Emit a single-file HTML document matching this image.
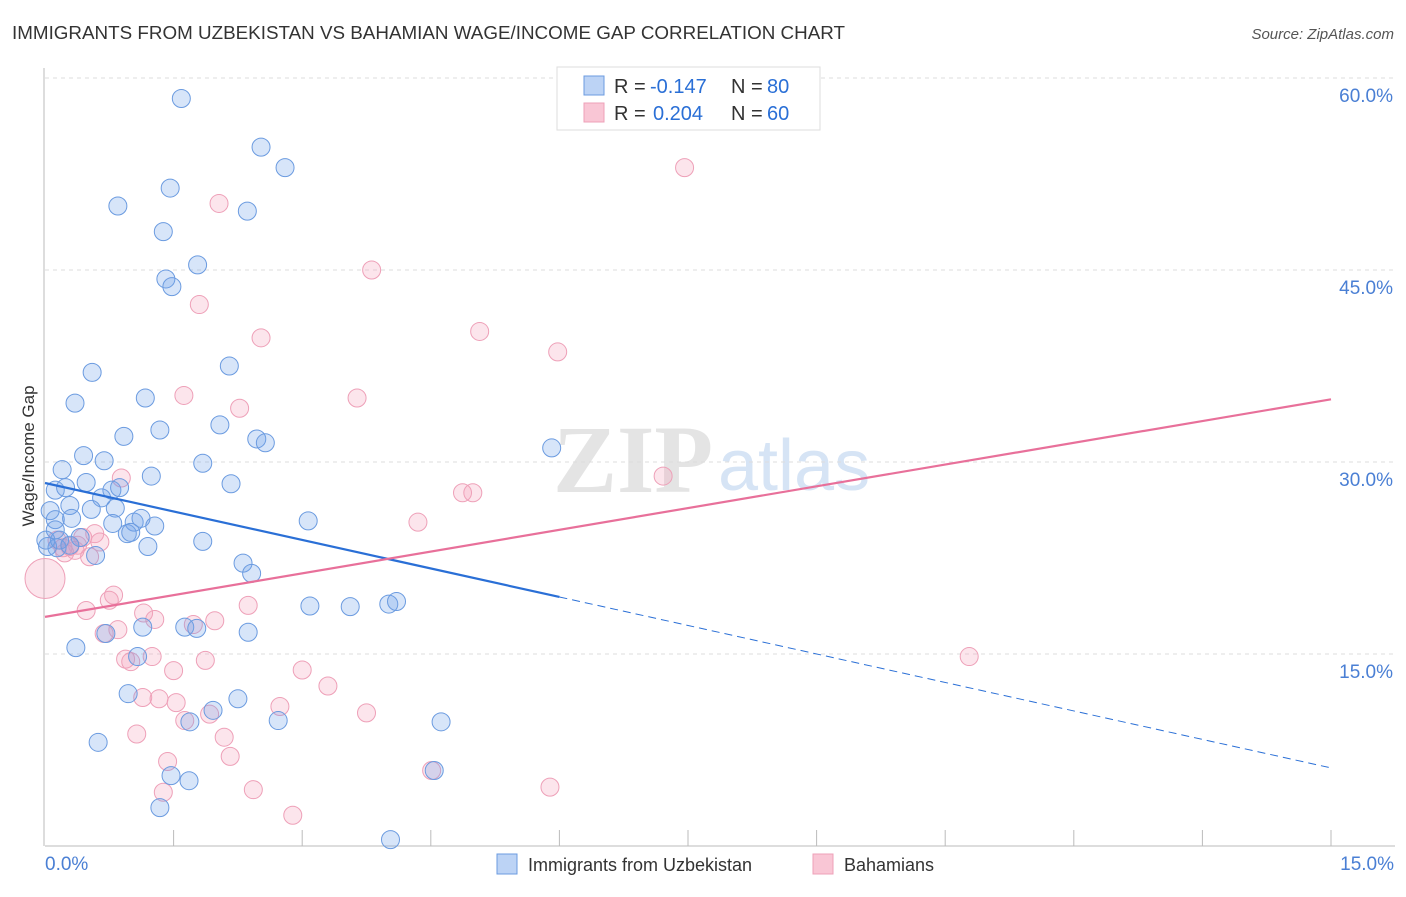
<!DOCTYPE html>
<html><head><meta charset="utf-8"><style>
body{margin:0;background:#fff;font-family:"Liberation Sans",sans-serif;}
</style></head><body>
<svg id="chart" width="1406" height="892" xmlns="http://www.w3.org/2000/svg" font-family="Liberation Sans, sans-serif">
<text x="12" y="39" font-size="18" fill="#333" textLength="833" lengthAdjust="spacingAndGlyphs">IMMIGRANTS FROM UZBEKISTAN VS BAHAMIAN WAGE/INCOME GAP CORRELATION CHART</text>
<text x="1394" y="39" font-size="15" fill="#555" font-style="italic" text-anchor="end">Source: ZipAtlas.com</text>
<g>
<text x="553" y="492" font-size="96" fill="#e4e4e4" font-family="Liberation Serif, serif" font-weight="bold">ZIP</text>
<text x="718" y="490" font-size="72" fill="#d6e4f5">atlas</text>
</g>
<g id="grid"></g>
<g id="axes"></g>
<g id="pts"></g>
<g id="lines"></g>
<text transform="translate(34,456) rotate(-90)" font-size="17" fill="#333" text-anchor="middle">Wage/Income Gap</text>
<g font-size="20">
<rect x="557" y="67" width="263" height="63" fill="#fff" stroke="#ddd"/>
<rect x="584" y="76" width="20" height="19" fill="#bcd3f5" stroke="#6b9be0"/>
<rect x="584" y="103" width="20" height="19" fill="#f9c6d5" stroke="#eea0b8"/>
<text x="614" y="93" fill="#333">R =</text>
<text x="650" y="93" fill="#2a6fd6">-0.147</text>
<text x="731" y="93" fill="#333">N =</text>
<text x="767" y="93" fill="#2a6fd6">80</text>
<text x="614" y="120" fill="#333">R =</text>
<text x="653" y="120" fill="#2a6fd6">0.204</text>
<text x="731" y="120" fill="#333">N =</text>
<text x="767" y="120" fill="#2a6fd6">60</text>
</g>
<g>
<rect x="497" y="854" width="20" height="20" fill="#bcd3f5" stroke="#6b9be0"/>
<text x="528" y="871" font-size="18" fill="#333">Immigrants from Uzbekistan</text>
<rect x="813" y="854" width="20" height="20" fill="#f9c6d5" stroke="#eea0b8"/>
<text x="844" y="871" font-size="18" fill="#333">Bahamians</text>
</g>
</svg>
<script>
const yTicks=[15,30,45,60];
const yTickLabels=["15.0%","30.0%","45.0%","60.0%"];
const xTickVals=[1.5,3,4.5,6,7.5,9,10.5,12,13.5,15];
const xEndLabels=["0.0%","15.0%"];
const blueX=[1.59,2.52,2.80,1.46,0.85,2.36,1.38,1.78,1.41,1.48,0.55,2.15,0.35,1.17,1.34,0.92,2.04,2.47,2.57,0.45,0.69,1.84,0.20,1.24,2.17,0.12,0.24,0.48,0.78,0.87,0.66,0.29,0.54,0.82,0.06,0.12,0.31,0.79,1.04,1.12,1.28,0.96,1.00,0.41,0.14,1.20,1.84,0.59,2.31,2.41,3.07,5.91,3.09,3.56,4.01,4.10,1.14,1.63,1.77,0.71,2.37,0.36,1.08,0.97,1.96,2.25,1.69,2.72,4.62,0.62,1.47,1.68,1.34,4.03,4.54,0.03,0.01,0.17,0.29,0.12];
const blueY=[58.4,54.6,53.0,51.4,50.0,49.6,48.0,45.4,44.3,43.7,37.0,37.5,34.6,35.0,32.5,32.0,32.9,31.8,31.5,30.5,30.1,29.9,29.4,28.9,28.3,27.8,28.0,28.4,27.8,28.0,27.2,26.6,26.3,26.4,26.2,25.5,25.6,25.2,25.3,25.6,25.0,24.4,24.5,24.1,23.3,23.4,23.8,22.7,22.1,21.3,25.4,31.1,18.75,18.7,18.9,19.1,17.1,17.1,17.0,16.6,16.7,15.5,14.8,11.9,10.6,11.5,9.7,9.8,9.7,8.1,5.5,5.1,3.0,0.5,5.9,23.4,23.9,23.9,23.5,24.7];
const pinkX=[7.46,2.03,3.81,1.80,2.52,5.07,5.98,1.62,2.27,3.64,0.89,7.21,4.99,4.87,4.35,0.58,0.14,0.29,0.38,0.52,0.64,0.21,2.37,0.80,0.75,0.48,1.15,1.28,1.73,1.98,0.69,0.85,0.94,1.00,1.25,1.87,1.50,3.00,3.30,1.14,1.33,1.53,2.74,1.63,1.92,3.75,2.09,1.07,2.16,1.43,4.51,5.89,2.43,1.38,2.89,10.78,0.0,0.35,0.44,0.23];
const pinkY=[53.0,50.2,45.0,42.3,39.7,40.2,38.6,35.2,34.2,35.0,28.75,28.9,27.6,27.6,25.3,24.4,23.9,23.4,23.5,22.6,23.75,23.3,18.8,19.6,19.2,18.4,18.2,17.7,17.3,17.6,16.6,16.9,14.6,14.4,14.8,14.5,13.7,13.75,12.5,11.6,11.5,11.2,10.9,9.8,10.3,10.4,8.5,8.75,7.0,6.6,5.9,4.6,4.4,4.2,2.4,14.8,20.9,23.1,24.1,22.9];
const pinkR=[9,9,9,9,9,9,9,9,9,9,9,9,9,9,9,9,9,9,9,9,9,9,9,9,9,9,9,9,9,9,9,9,9,9,9,9,9,9,9,9,9,9,9,9,9,9,9,9,9,9,9,9,9,9,9,9,20,9,9,9];
const blueTrend=[28.36,6.1];const blueSolidEnd=6.0;
const pinkTrend=[17.9,34.9];

const NS="http://www.w3.org/2000/svg";
const X0=45,X1=1331,Y0=846,PX=12.8;
const sx=v=>X0+(v/15)*(X1-X0);
const sy=v=>Y0-v*PX;
function mk(tag,attrs,parent){const e=document.createElementNS(NS,tag);for(const k in attrs)e.setAttribute(k,attrs[k]);parent.appendChild(e);return e;}
const grid=document.getElementById('grid'),axes=document.getElementById('axes'),pts=document.getElementById('pts'),lines=document.getElementById('lines');
yTicks.forEach((t,i)=>{
 const l=mk('line',{x1:X0,x2:1395,y1:sy(t),y2:sy(t),stroke:'#ddd','stroke-dasharray':'4,4'},grid);
 
 
 const tx=mk('text',{x:1393,y:sy(t)+24,'font-size':19,fill:'#4a7fd4','text-anchor':'end'},grid);
 tx.textContent=yTickLabels[i];
 
 
});
const ay=mk('line',{x1:44,x2:44,y1:68,y2:Y0,stroke:'#bbb'},axes);


const ax=mk('line',{x1:X0,x2:1395,y1:Y0,y2:Y0,stroke:'#bbb'},axes);


xTickVals.forEach(t=>{
 const l=mk('line',{x1:sx(t),x2:sx(t),y1:830,y2:Y0,stroke:'#bbb'},axes);
 
 
});
const xl0=mk('text',{x:45,y:870,'font-size':19,fill:'#4a7fd4'},axes);xl0.textContent=xEndLabels[0];


const xl1=mk('text',{x:1394,y:870,'font-size':19,fill:'#4a7fd4','text-anchor':'end'},axes);xl1.textContent=xEndLabels[1];


pinkX.forEach((x,i)=>{
 const c=mk('circle',{cx:sx(x),cy:sy(pinkY[i]),r:pinkR[i],fill:'rgba(244,160,188,0.28)',stroke:'#eea0b8','stroke-width':1},pts);
 
 
});
blueX.forEach((x,i)=>{
 const c=mk('circle',{cx:sx(x),cy:sy(blueY[i]),r:9,fill:'rgba(110,160,235,0.28)',stroke:'#6b9be0','stroke-width':1},pts);
 
 
});
const bAt=x=>blueTrend[0]+(blueTrend[1]-blueTrend[0])*x/15;
const b1=mk('line',{x1:sx(0),y1:sy(bAt(0)),x2:sx(blueSolidEnd),y2:sy(bAt(blueSolidEnd)),stroke:'#2a6fd6','stroke-width':2.2},lines);


const b2=mk('line',{x1:sx(blueSolidEnd),y1:sy(bAt(blueSolidEnd)),x2:sx(15),y2:sy(bAt(15)),stroke:'#2a6fd6','stroke-width':1,'stroke-dasharray':'8,5'},lines);


const p1=mk('line',{x1:sx(0),y1:sy(pinkTrend[0]),x2:sx(15),y2:sy(pinkTrend[1]),stroke:'#e8709a','stroke-width':2.2},lines);


</script>
</body></html>
